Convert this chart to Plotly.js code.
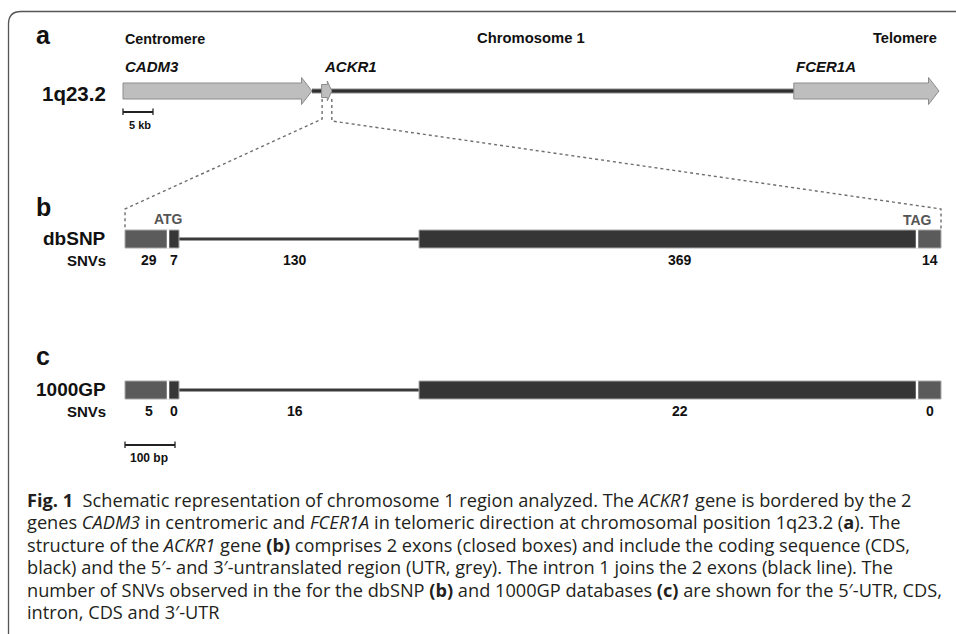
<!DOCTYPE html>
<html><head><meta charset="utf-8">
<script src="https://cdn.plot.ly/plotly-3.0.1.min.js"></script>
<style>html,body{margin:0;padding:0;background:#fff;overflow:hidden;}</style>
</head><body><div id="chart" style="width:956px;height:634px;"></div>
<script>
// ---------------- data ----------------
const genes = ['CADM3', 'ACKR1', 'FCER1A'];
const geneStartKb = [0, 33.1, 111.8];
const geneEndKb = [31.5, 34.8, 136.0];
const scaleKb = 5;

const regions = ['5′-UTR', 'CDS', 'Intron 1', 'CDS', '3′-UTR'];
const regionType = ['utr', 'cds', 'intron', 'cds', 'utr'];
const regionLengthBp = [86, 22, 480, 996, 48];
const databases = ['dbSNP', '1000GP'];
const snvDbSNP = [29, 7, 130, 369, 14];
const snv1000GP = [5, 0, 16, 22, 0];
const scaleBp = 100;

const captionLines = [
  '<b>Fig. 1</b>\u00a0\u00a0Schematic representation of chromosome 1 region analyzed. The <i>ACKR1</i> gene is bordered by the 2',
  'genes <i>CADM3</i> in centromeric and <i>FCER1A</i> in telomeric direction at chromosomal position 1q23.2 (<b>a</b>). The',
  'structure of the <i>ACKR1</i> gene <b>(b)</b> comprises 2 exons (closed boxes) and include the coding sequence (CDS,',
  'black) and the 5′- and 3′-untranslated region (UTR, grey). The intron 1 joins the 2 exons (black line). The',
  'number of SNVs observed in the for the dbSNP <b>(b)</b> and 1000GP databases <b>(c)</b> are shown for the 5′-UTR, CDS,',
  'intron, CDS and 3′-UTR'
];

// ---------------- layout constants ----------------
const W = 956, H = 634;
const KB_ORIGIN = 123, KB_PX = 6;      // panel a scale
const BP_ORIGIN = 125, BP_PX = 0.5;    // panels b, c scale
const kbToPx = kb => KB_ORIGIN + kb * KB_PX;
const bpToPx = bp => BP_ORIGIN + bp * BP_PX;
const P = v => v / W;                  // pixel -> paper x
const FONT = 'Liberation Sans, Arial, Helvetica, sans-serif';
const CAP_FONT = 'Open Sans, Noto Sans, sans-serif';
const GENE_Y = 91;
const ROW_Y = [239, 390];
const COUNT_Y = [260, 411];
const BOX_HALF = 9;
const countShiftPx = [2, 0, -4, 12, 1];
const COLORS = {utr: '#5b5b5b', cds: '#363636'};

const counts = [snvDbSNP, snv1000GP];
const regionStart = []; let acc = 0;
regionLengthBp.forEach(l => { regionStart.push(acc); acc += l; });
const regionEnd = regionStart.map((s, i) => s + regionLengthBp[i]);
const totalBp = acc;

const traces = [];
const shapes = [];
const ann = [];

// frame
shapes.push({type: 'path', xref: 'paper', yref: 'y',
  path: `M ${P(8.5)},${H} L ${P(8.5)},24 Q ${P(8.5)},11.5 ${P(21)},11.5 L 1,11.5`,
  line: {color: '#555', width: 1.3}});

// chromosome backbone: from end of first gene to start of last gene
const chrX = [geneEndKb[0], geneStartKb[genes.length - 1]];
traces.push({x: chrX, y: [GENE_Y, GENE_Y], xaxis: 'x', yaxis: 'y', mode: 'lines',
  line: {color: '#8a8a8a', width: 5}, hoverinfo: 'skip'});
traces.push({x: chrX, y: [GENE_Y, GENE_Y], xaxis: 'x', yaxis: 'y', mode: 'lines',
  line: {color: '#2e2e2e', width: 3}, hoverinfo: 'skip'});

// gene arrows
genes.forEach((g, i) => {
  const x0 = geneStartKb[i], x1 = geneEndKb[i];
  const Lpx = (x1 - x0) * KB_PX;
  const big = Lpx > 40;
  const bh = big ? 8 : 6.5, hh = big ? 13.5 : 10, hl = (big ? 10.5 : 4.5) / KB_PX;
  const xh = x1 - hl;
  shapes.push({type: 'path', xref: 'x', yref: 'y',
    path: `M ${x0},${GENE_Y - bh} L ${xh},${GENE_Y - bh} L ${xh},${GENE_Y - hh} L ${x1},${GENE_Y} L ${xh},${GENE_Y + hh} L ${xh},${GENE_Y + bh} L ${x0},${GENE_Y + bh} Z`,
    fillcolor: '#bebebe', line: {color: '#8c8c8c', width: 1}});
  ann.push({xref: 'x', yref: 'y', x: x0, y: 66, xanchor: 'left', yanchor: 'middle', showarrow: false,
    text: `<b><i>${g}</i></b>`, font: {family: FONT, size: 15, color: '#111'}});
});

// 5 kb scale bar
traces.push({x: [0, scaleKb], y: [112, 112], xaxis: 'x', yaxis: 'y', mode: 'lines',
  line: {color: '#222', width: 2}, hoverinfo: 'skip'});
[0, scaleKb].forEach(v => shapes.push({type: 'line', xref: 'x', yref: 'y', x0: v, x1: v, y0: 108.5, y1: 115, line: {color: '#222', width: 1.3}}));
ann.push({xref: 'x', yref: 'y', x: 0, y: 125, xanchor: 'left', xshift: 4, yanchor: 'middle', showarrow: false,
  text: `<b>${scaleKb} kb</b>`, font: {family: FONT, size: 11, color: '#111'}});

// zoom connectors (dotted)
const ack = genes.indexOf('ACKR1');
const dot = {color: '#6e6e6e', width: 1.4, dash: 'dot'};
shapes.push({type: 'path', xref: 'paper', yref: 'y', line: dot,
  path: `M ${P(kbToPx(geneStartKb[ack]) + 0.5)},99 L ${P(kbToPx(geneStartKb[ack]) + 0.5)},119 L ${P(bpToPx(0))},209 L ${P(bpToPx(0))},229`});
shapes.push({type: 'path', xref: 'paper', yref: 'y', line: dot,
  path: `M ${P(kbToPx(geneEndKb[ack]))},99 L ${P(kbToPx(geneEndKb[ack]))},121 L ${P(bpToPx(totalBp))},209 L ${P(bpToPx(totalBp))},229`});

// ACKR1 tracks
databases.forEach((db, r) => {
  const yc = ROW_Y[r];
  regions.forEach((reg, i) => {
    if (regionType[i] === 'intron') {
      traces.push({x: [regionStart[i], regionEnd[i]], y: [yc, yc], xaxis: 'x2', yaxis: 'y', mode: 'lines',
        line: {color: '#9c9c9c', width: 4}, hoverinfo: 'skip'});
      traces.push({x: [regionStart[i], regionEnd[i]], y: [yc, yc], xaxis: 'x2', yaxis: 'y', mode: 'lines',
        line: {color: '#3a3a3a', width: 2}, hoverinfo: 'skip'});
    } else {
      shapes.push({type: 'rect', xref: 'x2', yref: 'y', x0: regionStart[i], x1: regionEnd[i],
        y0: yc - BOX_HALF, y1: yc + BOX_HALF, fillcolor: COLORS[regionType[i]], line: {color: '#a8a8a8', width: 1}});
    }
    ann.push({xref: 'x2', yref: 'y', x: (regionStart[i] + regionEnd[i]) / 2, xshift: countShiftPx[i], y: COUNT_Y[r],
      xanchor: 'center', yanchor: 'middle', showarrow: false,
      text: `<b>${counts[r][i]}</b>`, font: {family: FONT, size: 14, color: '#111'}});
  });
  // white separators between adjacent boxes
  for (let i = 1; i < regions.length; i++) {
    if (regionType[i] !== 'intron' && regionType[i - 1] !== 'intron') {
      shapes.push({type: 'line', xref: 'x2', yref: 'y', x0: regionStart[i], x1: regionStart[i],
        y0: yc - BOX_HALF - 0.5, y1: yc + BOX_HALF + 0.5, line: {color: '#fff', width: 2.5}});
    }
  }
  ann.push({xref: 'paper', yref: 'y', x: P(108), y: yc - 1, xanchor: 'right', yanchor: 'middle', showarrow: false,
    text: `<b>${db}</b>`, font: {family: FONT, size: 19, color: '#111'}});
  ann.push({xref: 'paper', yref: 'y', x: P(108), y: COUNT_Y[r], xanchor: 'right', yanchor: 'middle', showarrow: false,
    text: '<b>SNVs</b>', font: {family: FONT, size: 15, color: '#111'}});
});

// ATG / TAG codon labels (start of first CDS, end of last CDS)
const firstCds = regionType.indexOf('cds'), lastCds = regionType.lastIndexOf('cds');
ann.push({xref: 'x2', yref: 'y', x: regionStart[firstCds], y: 219, xanchor: 'center', yanchor: 'middle', showarrow: false,
  text: '<b>ATG</b>', font: {family: FONT, size: 14, color: '#555'}});
ann.push({xref: 'x2', yref: 'y', x: regionEnd[lastCds], y: 220, xanchor: 'center', yanchor: 'middle', showarrow: false,
  text: '<b>TAG</b>', font: {family: FONT, size: 14, color: '#555'}});

// 100 bp scale bar
traces.push({x: [0, scaleBp], y: [445, 445], xaxis: 'x2', yaxis: 'y', mode: 'lines',
  line: {color: '#222', width: 2}, hoverinfo: 'skip'});
[0, scaleBp].forEach(v => shapes.push({type: 'line', xref: 'x2', yref: 'y', x0: v, x1: v, y0: 441.5, y1: 448, line: {color: '#222', width: 1.3}}));
ann.push({xref: 'x2', yref: 'y', x: 0, y: 458, xanchor: 'left', xshift: 3, yanchor: 'middle', showarrow: false,
  text: `<b>${scaleBp} bp</b>`, font: {family: FONT, size: 12, color: '#111'}});

// panel letters & headings
[['a', 35], ['b', 207], ['c', 356]].forEach(([t, y]) => ann.push({xref: 'paper', yref: 'y', x: P(43), y: y,
  xanchor: 'center', yanchor: 'middle', showarrow: false, text: `<b>${t}</b>`, font: {family: FONT, size: 25, color: '#111'}}));
ann.push({xref: 'paper', yref: 'y', x: P(123), y: 39, xanchor: 'left', yanchor: 'middle', showarrow: false,
  text: '<b>Centromere</b>', font: {family: FONT, size: 14.3, color: '#111'}});
ann.push({xref: 'paper', yref: 'y', x: P(531), y: 38, xanchor: 'center', yanchor: 'middle', showarrow: false,
  text: '<b>Chromosome 1</b>', font: {family: FONT, size: 14.8, color: '#111'}});
ann.push({xref: 'paper', yref: 'y', x: P(939), y: 38, xanchor: 'right', yanchor: 'middle', showarrow: false,
  text: '<b>Telomere</b>', font: {family: FONT, size: 14.6, color: '#111'}});
ann.push({xref: 'paper', yref: 'y', x: P(108), y: 93, xanchor: 'right', yanchor: 'middle', showarrow: false,
  text: '<b>1q23.2</b>', font: {family: FONT, size: 20.5, color: '#111'}});

// caption
captionLines.forEach((line, i) => ann.push({xref: 'paper', yref: 'y', x: P(25), y: 500 + i * 22.4,
  xanchor: 'left', yanchor: 'middle', align: 'left', showarrow: false, text: line,
  font: {family: CAP_FONT, size: 18.2, color: '#231f20'}}));

const hidden = {visible: false, showgrid: false, zeroline: false, fixedrange: true};
const layout = {
  width: W, height: H, margin: {l: 0, r: 0, t: 0, b: 0},
  paper_bgcolor: '#fff', plot_bgcolor: '#fff', showlegend: false,
  xaxis: Object.assign({range: [-KB_ORIGIN / KB_PX, (W - KB_ORIGIN) / KB_PX], domain: [0, 1]}, hidden),
  xaxis2: Object.assign({range: [-BP_ORIGIN / BP_PX, (W - BP_ORIGIN) / BP_PX], overlaying: 'x', domain: [0, 1]}, hidden),
  yaxis: Object.assign({range: [H, 0], domain: [0, 1]}, hidden),
  shapes: shapes, annotations: ann
};
Plotly.newPlot('chart', traces, layout, {staticPlot: true, displayModeBar: false});
</script>
</body></html>
